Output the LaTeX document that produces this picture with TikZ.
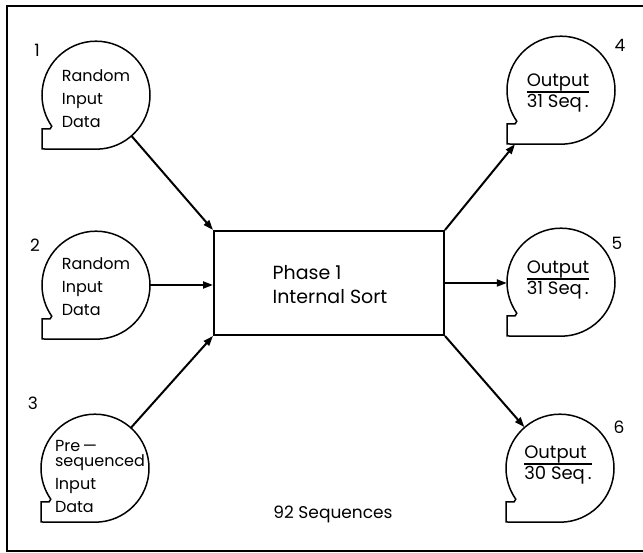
\documentclass[tikz,border=0pt]{standalone}
\usepackage{fontspec}
\setmainfont{Poppins}
\usetikzlibrary{arrows.meta}
\tikzset{
  reel/.style={circle, minimum size=108pt, inner sep=0pt},
  reelline/.style={line width=1.5pt},
  conn/.style={line width=2pt, -{Triangle[length=10pt,width=7pt]}},
  sortbox/.style={draw, line width=2pt, minimum width=230pt, minimum height=104pt, inner sep=0pt},
  intext/.style={align=left, inner sep=0pt, font=\fontsize{16}{23}\selectfont},
  outtext/.style={inner sep=0pt, font=\fontsize{18}{14}\selectfont},
  numtext/.style={inner sep=0pt, font=\fontsize{17}{18}\selectfont},
  boxtext/.style={align=left, inner sep=0pt, font=\fontsize{19}{24}\selectfont},
  seqtext/.style={inner sep=0pt, font=\fontsize{17}{18}\selectfont},
  frameline/.style={line width=2pt},
}
\newcommand\reelshape[1]{%
  \draw[reelline] (#1.south) arc[start angle=270, end angle=575, radius=54pt]
    -- ([shift={(-46pt,-34pt)}]#1.center)
    -- ([shift={(-54pt,-34pt)}]#1.center)
    -- ([shift={(-54pt,-54pt)}]#1.center) -- cycle;}
\newcommand\outlabel[2]{\setlength\arrayrulewidth{1.6pt}\begin{tabular}{@{}l@{}}#1\\\hline \rule{0pt}{15pt}#2\end{tabular}}
\begin{document}
\begin{tikzpicture}[x=1pt,y=1pt]
\useasboundingbox (0,0) rectangle (643,553);
% frame
\draw[frameline] (643,547) -- (7,547) -- (7,2) -- (643,2);
% reels
\node[reel] (t1) at (96,458) {};
\node[reel] (t2) at (96,268) {};
\node[reel] (t3) at (95,85) {};
\node[reel] (t4) at (561,463) {};
\node[reel] (t5) at (561,271) {};
\node[reel] (t6) at (560,85) {};
\reelshape{t1}\reelshape{t2}\reelshape{t3}\reelshape{t4}\reelshape{t5}\reelshape{t6}
% reel labels
\node[intext] (l1) at (96,454) {Random\\Input\\Data};
\node[intext] (l2) at (96,266) {Random\\Input\\Data};
\node[intext] (l3) at (100,76) {Pre\,---\\[-8pt]sequenced\\Input\\Data};
\node[outtext] (l4) at (558,460) {\outlabel{Output}{31 Seq\,.}};
\node[outtext] (l5) at (558,273) {\outlabel{Output}{31 Seq\,.}};
\node[outtext] (l6) at (558,88) {\outlabel{Output}{30 Seq\,.}};
% numbers
\node[numtext] (n1) at (37,503) {1};
\node[numtext] (n2) at (35,308) {2};
\node[numtext] (n3) at (33,150) {3};
\node[numtext] (n4) at (620,508) {4};
\node[numtext] (n5) at (617,310) {5};
\node[numtext] (n6) at (619,126) {6};
% sort box
\node[sortbox] (box) at (329,270) {};
\node[boxtext] (bt) at (330,268) {Phase 1\\Internal Sort};
\node[seqtext] (seq) at (333,39) {92 Sequences};
% connectors
\draw[conn] (t1) -- (box.north west);
\draw[conn] (t2) -- (t2 -| box.west);
\draw[conn] (t3) -- (box.south west);
\draw[conn] (box.north east) -- ([xshift=-46pt]t4.south);
\draw[conn] (box.east) -- (box.east -| t5.west);
\draw[conn] (box.south east) -- (t6);
\end{tikzpicture}
\end{document}
